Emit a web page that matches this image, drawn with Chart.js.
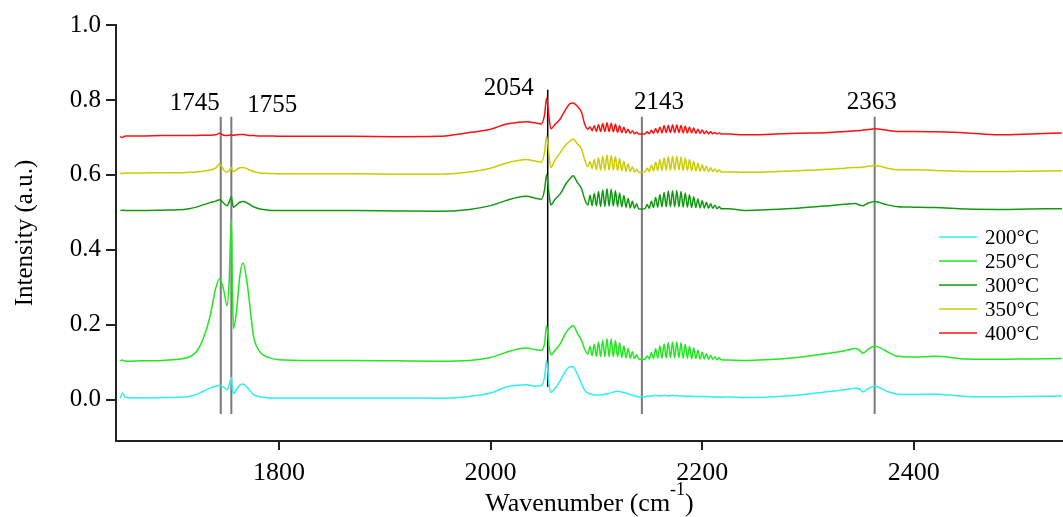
<!DOCTYPE html>
<html>
<head>
<meta charset="utf-8">
<script src="https://cdn.jsdelivr.net/npm/chart.js@4.4.0/dist/chart.umd.min.js"></script>
<style>
  body { margin: 0; background: #fff; }
  #wrap { width: 1063px; height: 517px; }
</style>
</head>
<body>
<div id="wrap"><canvas id="irChart"></canvas></div>
<script>
// wavenumber grid (cm-1), shared by all spectra
const wavenumber = [
  1650, 1652, 1655, 1670, 1690, 1705, 1715, 1722, 1728, 1735,
  1740, 1744, 1748, 1751, 1753, 1755, 1756, 1757, 1760, 1763,
  1766, 1770, 1776, 1782, 1790, 1800, 1830, 1870, 1910, 1950,
  1980, 2000, 2015, 2025, 2034, 2042, 2048, 2051, 2053, 2055,
  2057, 2061, 2066, 2071, 2075, 2078, 2082, 2086, 2089,
  // CO gas P branch
  2092, 2094, 2096, 2098, 2100, 2102, 2104, 2106, 2108, 2110, 2112, 2114, 2116,
  2118, 2120, 2122, 2124, 2126, 2128, 2130, 2132, 2134, 2136, 2138, 2140,
  2143,
  // CO gas R branch
  2146, 2148, 2150, 2152, 2154, 2156, 2158, 2160, 2162, 2164, 2166, 2168, 2170,
  2172, 2174, 2176, 2178, 2180, 2182, 2184, 2186, 2188, 2190, 2192, 2194, 2196,
  2198, 2200, 2202, 2204, 2206, 2208, 2210, 2212, 2214, 2216, 2218,
  2225, 2240, 2260, 2290, 2320, 2335, 2345, 2349, 2352, 2357,
  2363, 2368, 2375, 2385, 2400, 2420, 2450, 2480, 2510, 2540
];

const int200 = [
  0.004, 0.018, 0.006, 0.005, 0.006, 0.007, 0.009, 0.014, 0.022, 0.031,
  0.036, 0.038, 0.033, 0.027, 0.040, 0.060, 0.030, 0.016, 0.028, 0.039,
  0.042, 0.033, 0.014, 0.008, 0.005, 0.005, 0.005, 0.005, 0.005, 0.004,
  0.009, 0.018, 0.034, 0.039, 0.040, 0.036, 0.038, 0.060, 0.105, 0.045,
  0.020, 0.030, 0.052, 0.077, 0.088, 0.088, 0.068, 0.043, 0.025,
  0.018, 0.016, 0.014, 0.013, 0.012, 0.013, 0.014, 0.013, 0.015, 0.016, 0.017, 0.019, 0.021,
  0.022, 0.023, 0.022, 0.021, 0.019, 0.018, 0.016, 0.014, 0.012, 0.010, 0.009, 0.008,
  0.007,
  0.008, 0.010, 0.009, 0.011, 0.010, 0.012, 0.010, 0.011, 0.010, 0.012, 0.011, 0.011, 0.010,
  0.012, 0.010, 0.011, 0.010, 0.011, 0.009, 0.010, 0.009, 0.010, 0.009, 0.010, 0.008, 0.009,
  0.008, 0.009, 0.008, 0.009, 0.008, 0.008, 0.007, 0.008, 0.007, 0.008, 0.007,
  0.008, 0.006, 0.007, 0.012, 0.022, 0.027, 0.031, 0.028, 0.021, 0.030,
  0.036, 0.032, 0.022, 0.015, 0.014, 0.015, 0.009, 0.008, 0.009, 0.010
];

const int250 = [
  0.103, 0.106, 0.103, 0.104, 0.105, 0.108, 0.114, 0.128, 0.160, 0.224,
  0.295, 0.323, 0.290, 0.251, 0.320, 0.483, 0.300, 0.190, 0.240, 0.330,
  0.365, 0.310, 0.170, 0.128, 0.113, 0.107, 0.105, 0.105, 0.104, 0.103,
  0.105, 0.113, 0.127, 0.135, 0.138, 0.134, 0.132, 0.150, 0.198, 0.150,
  0.120, 0.132, 0.150, 0.178, 0.192, 0.198, 0.178, 0.158, 0.135,
  0.122, 0.142, 0.118, 0.148, 0.116, 0.154, 0.115, 0.159, 0.115, 0.163, 0.115, 0.162, 0.115,
  0.158, 0.114, 0.152, 0.113, 0.144, 0.112, 0.136, 0.111, 0.128, 0.110, 0.120, 0.109,
  0.108,
  0.108, 0.117, 0.109, 0.126, 0.110, 0.136, 0.111, 0.144, 0.111, 0.149, 0.112, 0.153, 0.112,
  0.154, 0.112, 0.154, 0.112, 0.152, 0.111, 0.148, 0.111, 0.143, 0.110, 0.138, 0.110, 0.132,
  0.109, 0.127, 0.109, 0.123, 0.108, 0.119, 0.108, 0.115, 0.107, 0.112, 0.107,
  0.106, 0.105, 0.107, 0.113, 0.124, 0.131, 0.137, 0.132, 0.124, 0.135,
  0.143, 0.139, 0.128, 0.116, 0.114, 0.116, 0.109, 0.108, 0.109, 0.110
];

const int300 = [
  0.505, 0.506, 0.505, 0.505, 0.506, 0.507, 0.510, 0.514, 0.520, 0.526,
  0.530, 0.534, 0.524, 0.518, 0.528, 0.542, 0.525, 0.514, 0.520, 0.527,
  0.529, 0.525, 0.515, 0.509, 0.506, 0.505, 0.505, 0.505, 0.504, 0.503,
  0.508, 0.518, 0.532, 0.540, 0.543, 0.538, 0.535, 0.560, 0.601, 0.555,
  0.520, 0.535, 0.550, 0.575, 0.590, 0.598, 0.580, 0.563, 0.535,
  0.520, 0.546, 0.518, 0.551, 0.517, 0.556, 0.516, 0.560, 0.516, 0.563, 0.517, 0.562, 0.517,
  0.558, 0.516, 0.552, 0.515, 0.545, 0.514, 0.537, 0.512, 0.530, 0.511, 0.523, 0.509,
  0.509,
  0.510, 0.521, 0.511, 0.530, 0.513, 0.540, 0.514, 0.548, 0.515, 0.553, 0.515, 0.557, 0.515,
  0.558, 0.515, 0.558, 0.515, 0.556, 0.514, 0.552, 0.514, 0.547, 0.513, 0.542, 0.513, 0.536,
  0.512, 0.531, 0.512, 0.527, 0.511, 0.523, 0.511, 0.519, 0.510, 0.515, 0.510,
  0.510, 0.505, 0.507, 0.511, 0.518, 0.522, 0.524, 0.519, 0.518, 0.525,
  0.529, 0.526, 0.520, 0.515, 0.514, 0.513, 0.509, 0.508, 0.509, 0.510
];

const int350 = [
  0.605, 0.604, 0.605, 0.605, 0.606, 0.606, 0.607, 0.608, 0.610, 0.613,
  0.618, 0.629, 0.612, 0.607, 0.612, 0.620, 0.612, 0.609, 0.614, 0.619,
  0.620, 0.616, 0.609, 0.605, 0.604, 0.603, 0.603, 0.603, 0.602, 0.602,
  0.608, 0.618, 0.632, 0.638, 0.641, 0.637, 0.634, 0.660, 0.703, 0.660,
  0.620, 0.640, 0.660, 0.680, 0.690, 0.696, 0.683, 0.669, 0.640,
  0.622, 0.636, 0.617, 0.641, 0.614, 0.646, 0.613, 0.650, 0.613, 0.653, 0.613, 0.652, 0.613,
  0.649, 0.612, 0.643, 0.611, 0.636, 0.610, 0.629, 0.609, 0.622, 0.608, 0.615, 0.607,
  0.607,
  0.608, 0.618, 0.609, 0.626, 0.611, 0.634, 0.612, 0.641, 0.612, 0.646, 0.613, 0.649, 0.613,
  0.650, 0.613, 0.650, 0.613, 0.648, 0.612, 0.645, 0.612, 0.641, 0.611, 0.636, 0.611, 0.631,
  0.610, 0.627, 0.610, 0.623, 0.609, 0.619, 0.609, 0.616, 0.608, 0.613, 0.608,
  0.608, 0.607, 0.608, 0.611, 0.615, 0.618, 0.620, 0.620, 0.621, 0.623,
  0.625, 0.623, 0.618, 0.614, 0.614, 0.612, 0.609, 0.609, 0.610, 0.611
];

const int400 = [
  0.703, 0.700, 0.704, 0.704, 0.705, 0.705, 0.705, 0.705, 0.706, 0.706,
  0.707, 0.711, 0.706, 0.705, 0.706, 0.707, 0.706, 0.706, 0.707, 0.708,
  0.708, 0.706, 0.705, 0.704, 0.704, 0.703, 0.703, 0.703, 0.702, 0.703,
  0.713, 0.722, 0.736, 0.740, 0.742, 0.739, 0.736, 0.760, 0.805, 0.760,
  0.723, 0.735, 0.750, 0.775, 0.790, 0.792, 0.783, 0.767, 0.735,
  0.722, 0.728, 0.718, 0.731, 0.716, 0.734, 0.716, 0.737, 0.716, 0.739, 0.716, 0.738, 0.715,
  0.735, 0.714, 0.731, 0.713, 0.727, 0.712, 0.722, 0.711, 0.718, 0.710, 0.714, 0.709,
  0.709,
  0.709, 0.715, 0.710, 0.719, 0.711, 0.724, 0.712, 0.728, 0.712, 0.731, 0.713, 0.732, 0.713,
  0.733, 0.713, 0.733, 0.713, 0.732, 0.712, 0.730, 0.712, 0.728, 0.712, 0.725, 0.711, 0.722,
  0.711, 0.720, 0.710, 0.717, 0.710, 0.715, 0.710, 0.713, 0.709, 0.712, 0.709,
  0.709, 0.707, 0.708, 0.711, 0.713, 0.716, 0.718, 0.718, 0.720, 0.721,
  0.723, 0.722, 0.719, 0.716, 0.716, 0.715, 0.712, 0.707, 0.709, 0.712
];

const seriesLabels = ['200°C', '250°C', '300°C', '350°C', '400°C'];

// reference lines
const markerWn = [1745, 1755, 2054, 2143, 2363];
const markerTop = [0.755, 0.755, 0.827, 0.755, 0.755];
const markerBottom = [-0.038, -0.038, 0.035, -0.038, -0.038];
const markerLabels = ['1745', '1755', '2054', '2143', '2363'];

const xTicks = [1800, 2000, 2200, 2400];
const yTicks = [0, 0.2, 0.4, 0.6, 0.8, 1.0];

const serif = "'Liberation Serif', 'Times New Roman', serif";
const colors = ['#2ef0f0', '#22e622', '#119911', '#cccc00', '#ff1010'];

const spectra = [int200, int250, int300, int350, int400].map((vals, i) => ({
  label: seriesLabels[i],
  data: wavenumber.map((x, k) => ({ x: x, y: vals[k] })),
  borderColor: colors[i],
  borderWidth: 1.5,
  pointRadius: 0,
  cubicInterpolationMode: 'monotone',
  isSpectrum: true
}));

const markers = markerWn.map((wn, i) => ({
  label: markerLabels[i],
  data: [{ x: wn, y: markerBottom[i] }, { x: wn, y: markerTop[i] }],
  borderColor: i === 2 ? '#000' : '#7a7a7a',
  borderWidth: i === 2 ? 1.5 : 2,
  pointRadius: 0,
  isSpectrum: false
}));

// label offsets relative to the top of each marker line
const labelPlace = [
  { dx: -1, dy: -7, align: 'right' },
  { dx: 16, dy: -5, align: 'left' },
  { dx: -14, dy: 5, align: 'right' },
  { dx: 17, dy: -8, align: 'center' },
  { dx: -3, dy: -8, align: 'center' }
];

const overlay = {
  id: 'overlay',
  afterDatasetsDraw(chart) {
    const ctx = chart.ctx;
    const xs = chart.scales.x, ys = chart.scales.y;
    const area = chart.chartArea;
    ctx.save();
    ctx.fillStyle = '#000';

    // marker labels
    ctx.font = '25px ' + serif;
    ctx.textBaseline = 'alphabetic';
    markerWn.forEach((wn, i) => {
      const p = labelPlace[i];
      ctx.textAlign = p.align;
      ctx.fillText(markerLabels[i], xs.getPixelForValue(wn) + p.dx, ys.getPixelForValue(markerTop[i]) + p.dy);
    });

    // legend
    ctx.font = '21px ' + serif;
    ctx.textAlign = 'left';
    ctx.textBaseline = 'middle';
    const lx = area.right - 124;
    chart.data.datasets.filter(d => d.isSpectrum).forEach((d, i) => {
      const y = 237 + i * 24;
      ctx.strokeStyle = d.borderColor;
      ctx.lineWidth = 1.5;
      ctx.beginPath();
      ctx.moveTo(lx, y);
      ctx.lineTo(lx + 38, y);
      ctx.stroke();
      ctx.fillText(d.label, lx + 46, y + 1);
    });

    // x title with superscript
    ctx.textBaseline = 'alphabetic';
    ctx.textAlign = 'left';
    const main = 'Wavenumber (cm';
    ctx.font = '26px ' + serif;
    const w1 = ctx.measureText(main).width;
    const w3 = ctx.measureText(')').width;
    ctx.font = '18px ' + serif;
    const w2 = ctx.measureText('-1').width;
    let tx = (area.left + area.right) / 2 - (w1 + w2 + w3) / 2;
    const base = 511;
    ctx.font = '26px ' + serif;
    ctx.fillText(main, tx, base);
    ctx.font = '18px ' + serif;
    ctx.fillText('-1', tx + w1, base - 16);
    ctx.font = '26px ' + serif;
    ctx.fillText(')', tx + w1 + w2, base);

    // y title
    ctx.translate(25, (area.top + area.bottom) / 2);
    ctx.rotate(-Math.PI / 2);
    ctx.textAlign = 'center';
    ctx.textBaseline = 'middle';
    ctx.font = '25px ' + serif;
    ctx.fillText('Intensity (a.u.)', 0, 0);
    ctx.restore();
  }
};

new Chart(document.getElementById('irChart'), {
  type: 'line',
  data: { datasets: spectra.concat(markers) },
  options: {
    responsive: true,
    maintainAspectRatio: false,
    animation: false,
    layout: { padding: { top: 25, right: 0, left: 0, bottom: 0 } },
    plugins: { legend: { display: false }, tooltip: { enabled: false } },
    scales: {
      x: {
        type: 'linear',
        min: 1646,
        max: 2541,
        afterBuildTicks: s => { s.ticks = xTicks.map(v => ({ value: v })); },
        afterFit: s => { s.height = 76; },
        grid: { drawOnChartArea: false, drawTicks: true, tickLength: 9, color: '#222', lineWidth: 2 },
        border: { color: '#222', width: 2 },
        ticks: { color: '#000', font: { family: serif, size: 26 }, padding: 8, maxRotation: 0, callback: v => v }
      },
      y: {
        min: -0.11,
        max: 1.0,
        afterBuildTicks: s => { s.ticks = yTicks.map(v => ({ value: v })); },
        afterFit: s => { s.width = 116; },
        grid: { drawOnChartArea: false, drawTicks: true, tickLength: 10, color: '#222', lineWidth: 2 },
        border: { color: '#222', width: 2 },
        ticks: { color: '#000', font: { family: serif, size: 25 }, padding: 5, callback: v => v.toFixed(1) }
      }
    }
  },
  plugins: [overlay]
});
</script>
</body>
</html>
